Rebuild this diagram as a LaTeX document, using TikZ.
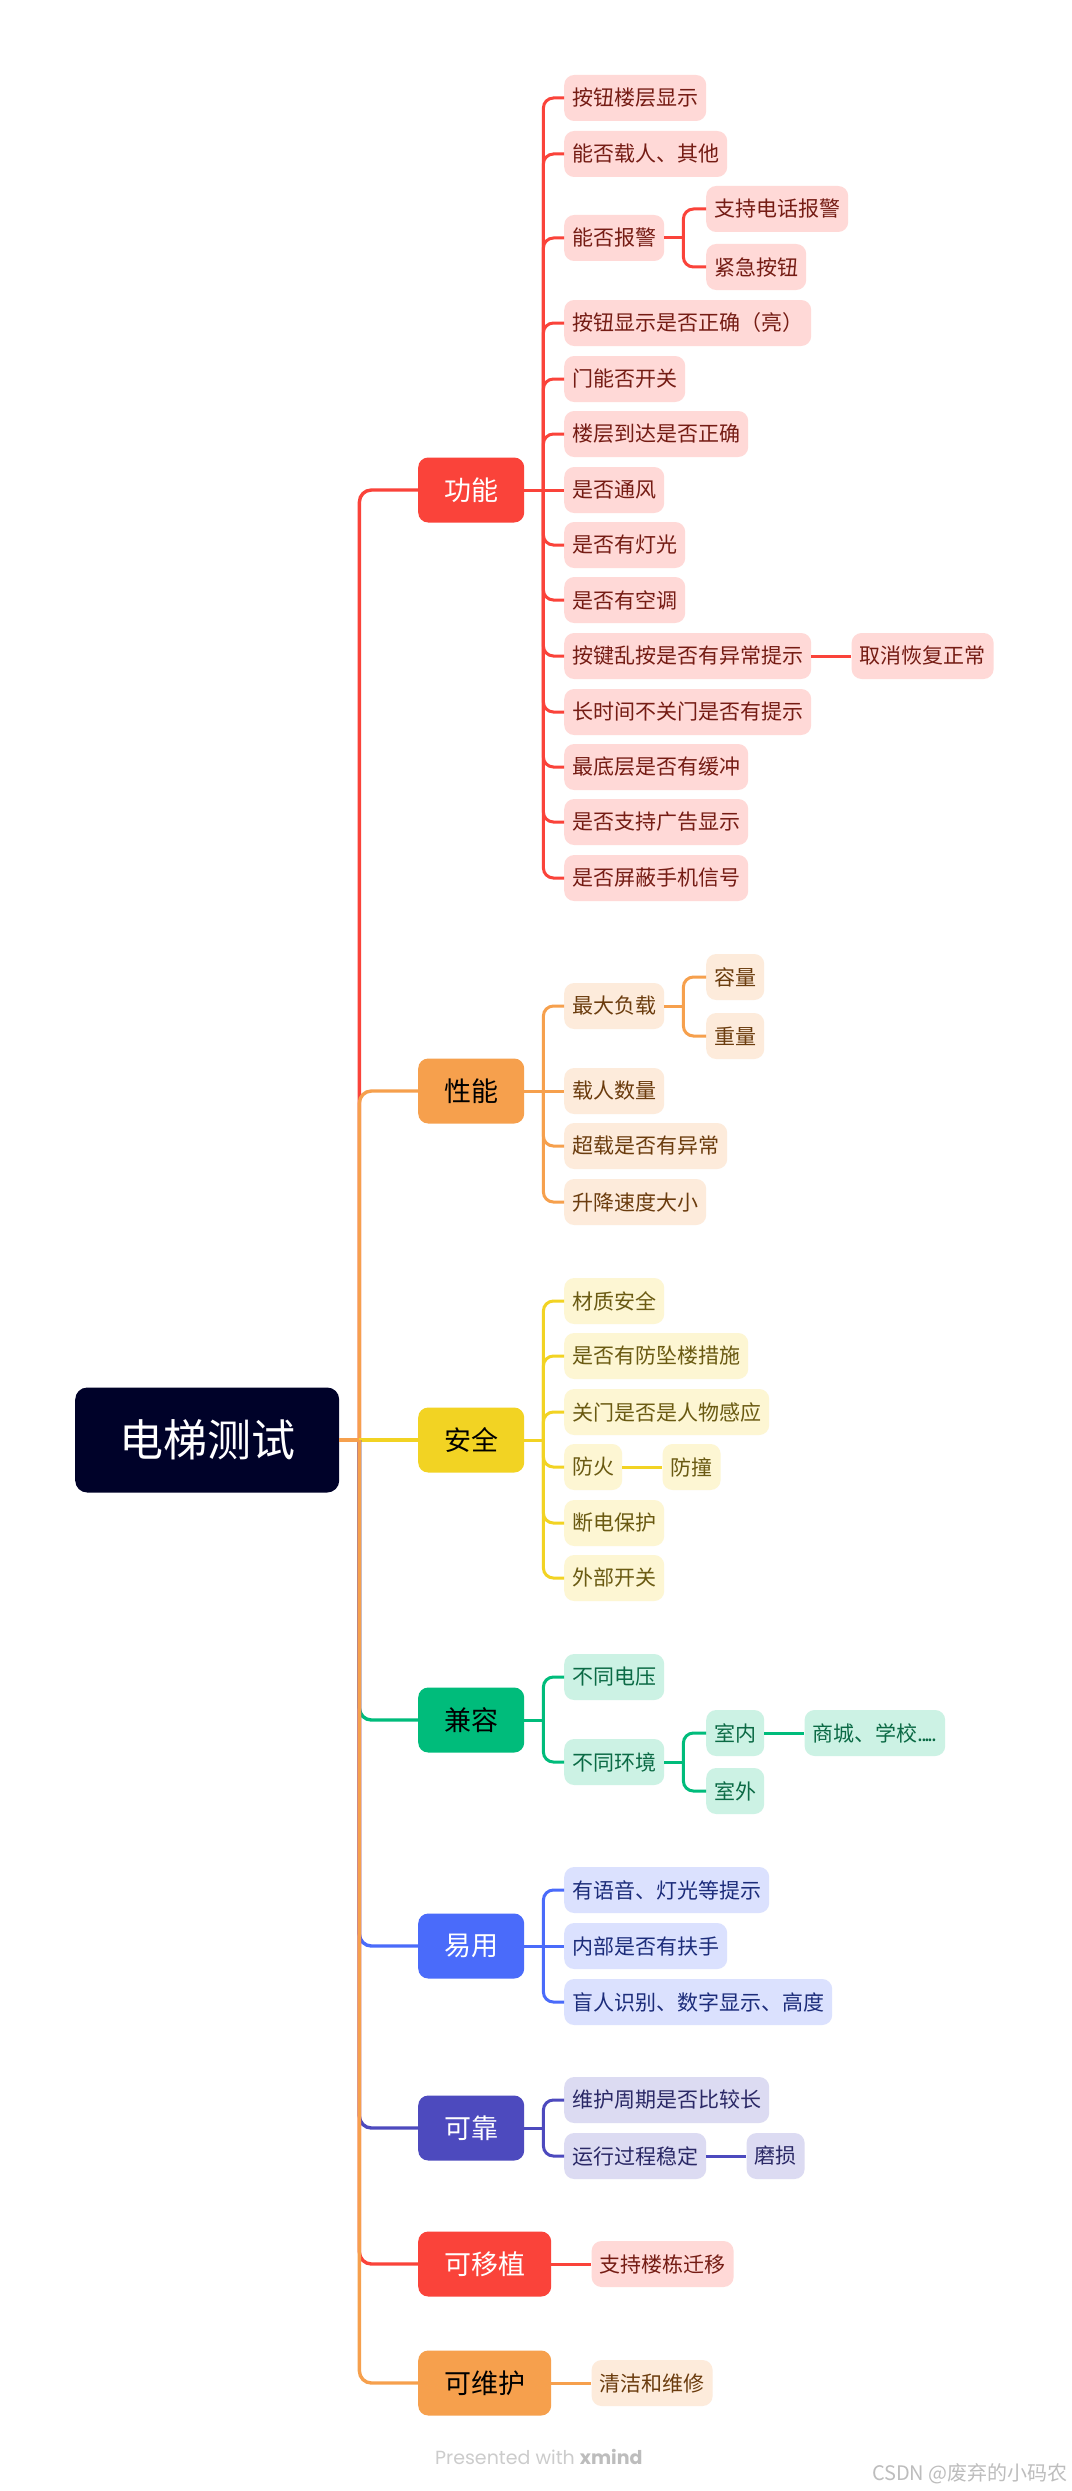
\documentclass[tikz,border=0pt]{standalone}
\usepackage{fontspec}
\setmainfont{Noto Sans CJK SC}
\newfontfamily\xmfont{Poppins}
\usepackage{tikz}
\usetikzlibrary{positioning,calc}
\definecolor{dtRoot}{HTML}{000229}
\definecolor{dtRed}{HTML}{FA433A}
\definecolor{dtRedLeaf}{HTML}{FFD9D7}
\definecolor{dtRedText}{HTML}{751C14}
\definecolor{dtOrange}{HTML}{F6A04D}
\definecolor{dtOrangeLeaf}{HTML}{FDEBDB}
\definecolor{dtOrangeText}{HTML}{6B3C0E}
\definecolor{dtYellow}{HTML}{F2D323}
\definecolor{dtYellowLeaf}{HTML}{FDF6D3}
\definecolor{dtYellowText}{HTML}{6A5A12}
\definecolor{dtGreen}{HTML}{00BC7B}
\definecolor{dtGreenLeaf}{HTML}{CCF2E4}
\definecolor{dtGreenText}{HTML}{0B6A45}
\definecolor{dtBlue}{HTML}{4A6BFA}
\definecolor{dtBlueLeaf}{HTML}{DBE1FE}
\definecolor{dtBlueText}{HTML}{1C2C7A}
\definecolor{dtIndigo}{HTML}{4D4ABE}
\definecolor{dtIndigoLeaf}{HTML}{DCDBF2}
\definecolor{dtIndigoText}{HTML}{2A2866}
\definecolor{dtMark}{HTML}{CCCCCC}
\definecolor{dtMarkDark}{HTML}{BDBDBD}
\newcommand\dtdots{.\kern-2.4pt.\kern-2.4pt.\kern-2.4pt.\kern-2.4pt.}
\tikzset{
  dtroot/.style={fill=dtRoot,text=white,rounded corners=12pt,inner xsep=44pt,inner ysep=0pt,
                 minimum height=105pt,anchor=west,font=\fontsize{44}{50}\selectfont},
  dttopic/.style 2 args={fill=#1,text=#2,rounded corners=10pt,inner xsep=26pt,inner ysep=0pt,
                 minimum height=65pt,anchor=west,font=\fontsize{27}{32}\selectfont},
  dtleaf/.style 2 args={fill=#1,text=#2,rounded corners=10pt,inner xsep=8pt,inner ysep=0pt,
                 minimum height=46pt,anchor=west,font=\fontsize{21}{25}\selectfont},
  dtred/.style={dtleaf={dtRedLeaf}{dtRedText}},
  dtorange/.style={dtleaf={dtOrangeLeaf}{dtOrangeText}},
  dtyellow/.style={dtleaf={dtYellowLeaf}{dtYellowText}},
  dtgreen/.style={dtleaf={dtGreenLeaf}{dtGreenText}},
  dtblue/.style={dtleaf={dtBlueLeaf}{dtBlueText}},
  dtindigo/.style={dtleaf={dtIndigoLeaf}{dtIndigoText}},
  dttrunk/.style={draw=#1,line width=3.4pt,rounded corners=12pt},
  dtlink/.style={draw=#1,line width=3pt,rounded corners=10pt},
}
\begin{document}
\begin{tikzpicture}[x=1pt,y=-1pt]
  \fill[white] (0,0) rectangle (1071,2491);

  \node[dtroot] (root) at (75,1440) {电梯测试};
  \node[dttopic={dtRed}{white}] (gn) at (418,490) {功能};
  \node[dttopic={dtOrange}{black}] (xn) at (418,1091) {性能};
  \node[dttopic={dtYellow}{black}] (aq) at (418,1440) {安全};
  \node[dttopic={dtGreen}{black}] (jr) at (418,1720) {兼容};
  \node[dttopic={dtBlue}{white}] (yy) at (418,1946) {易用};
  \node[dttopic={dtIndigo}{white}] (kk) at (418,2128) {可靠};
  \node[dttopic={dtRed}{white}] (ky) at (418,2264) {可移植};
  \node[dttopic={dtOrange}{black}] (kw) at (418,2383) {可维护};

  % 功能
  \node[dtred] (gn1) at (564,98) {按钮楼层显示};
  \node[dtred] (gn2) at (564,154) {能否载人、其他};
  \node[dtred] (gn3) at (564,238) {能否报警};
  \node[dtred] (gn3a) at (706,209) {支持电话报警};
  \node[dtred] (gn3b) at (706,267) {紧急按钮};
  \node[dtred] (gn4) at (564,323) {按钮显示是否正确（亮）};
  \node[dtred] (gn5) at (564,379) {门能否开关};
  \node[dtred] (gn6) at (564,434) {楼层到达是否正确};
  \node[dtred] (gn7) at (564,490) {是否通风};
  \node[dtred] (gn8) at (564,545) {是否有灯光};
  \node[dtred] (gn9) at (564,600) {是否有空调};
  \node[dtred] (gn10) at (564,656) {按键乱按是否有异常提示};
  \node[dtred,right=40pt of gn10] (gn10a) {取消恢复正常};
  \node[dtred] (gn11) at (564,712) {长时间不关门是否有提示};
  \node[dtred] (gn12) at (564,767) {最底层是否有缓冲};
  \node[dtred] (gn13) at (564,822) {是否支持广告显示};
  \node[dtred] (gn14) at (564,878) {是否屏蔽手机信号};

  % 性能
  \node[dtorange] (xn1) at (564,1006) {最大负载};
  \node[dtorange] (xn1a) at (706,977) {容量};
  \node[dtorange] (xn1b) at (706,1036) {重量};
  \node[dtorange] (xn2) at (564,1091) {载人数量};
  \node[dtorange] (xn3) at (564,1146) {超载是否有异常};
  \node[dtorange] (xn4) at (564,1202) {升降速度大小};

  % 安全
  \node[dtyellow] (aq1) at (564,1301) {材质安全};
  \node[dtyellow] (aq2) at (564,1356) {是否有防坠楼措施};
  \node[dtyellow] (aq3) at (564,1412) {关门是否是人物感应};
  \node[dtyellow] (aq4) at (564,1467) {防火};
  \node[dtyellow,right=40pt of aq4] (aq4a) {防撞};
  \node[dtyellow] (aq5) at (564,1523) {断电保护};
  \node[dtyellow] (aq6) at (564,1578) {外部开关};

  % 兼容
  \node[dtgreen] (jr1) at (564,1677) {不同电压};
  \node[dtgreen] (jr2) at (564,1762) {不同环境};
  \node[dtgreen] (jr2a) at (706,1733) {室内};
  \node[dtgreen,right=40pt of jr2a] (jr2a1) {商城、学校\dtdots};
  \node[dtgreen] (jr2b) at (706,1791) {室外};

  % 易用
  \node[dtblue] (yy1) at (564,1890) {有语音、灯光等提示};
  \node[dtblue] (yy2) at (564,1946) {内部是否有扶手};
  \node[dtblue] (yy3) at (564,2002) {盲人识别、数字显示、高度};

  % 可靠, 可移植, 可维护
  \node[dtindigo] (kk1) at (564,2100) {维护周期是否比较长};
  \node[dtindigo] (kk2) at (564,2156) {运行过程稳定};
  \node[dtindigo,right=40pt of kk2] (kk2a) {磨损};
  \node[dtred,right=40pt of ky] (ky1) {支持楼栋迁移};
  \node[dtorange,right=40pt of kw] (kw1) {清洁和维修};

  \node[anchor=west,inner sep=0pt,text=dtMark,font=\xmfont\fontsize{19}{22}\selectfont] (credit) at (435,2457)
    {Presented with \textcolor{dtMarkDark}{\bfseries xmind}};
  \node[anchor=east,inner sep=0pt,text=dtMarkDark,font=\fontsize{20}{24}\selectfont] (mark) at (1068,2474)
    {CSDN @废弃的小码农};

  % root branches
  \coordinate (rootJ) at ($(root.east)+(20,0)$);
  \foreach \t/\c in {gn/dtRed,xn/dtOrange}{\draw[dttrunk=\c] (rootJ) |- (\t.west);}
  \draw[dttrunk=dtYellow] (rootJ) -- (aq.west);
  \foreach \t/\c in {jr/dtGreen,yy/dtBlue,kk/dtIndigo,ky/dtRed,kw/dtOrange}{\draw[dttrunk=\c] (rootJ) |- (\t.west);}
  \draw[dttrunk=dtOrange] (root.east) -- (rootJ);

  % sub branches
  \draw[dtlink=dtRed] (gn.east) -- ++(19,0) coordinate (gnJ);
  \foreach \k in {gn1,gn2,gn3,gn4,gn5,gn6,gn8,gn9,gn10,gn11,gn12,gn13,gn14}{\draw[dtlink=dtRed] (gnJ) |- (\k.west);}
  \draw[dtlink=dtRed] (gnJ) -- (gn7.west);
  \draw[dtlink=dtRed] (gn3.east) -- ++(19,0) coordinate (gn3J);
  \foreach \k in {gn3a,gn3b}{\draw[dtlink=dtRed] (gn3J) |- (\k.west);}
  \draw[dtlink=dtRed] (gn10) -- (gn10a);

  \draw[dtlink=dtOrange] (xn.east) -- ++(19,0) coordinate (xnJ);
  \foreach \k in {xn1,xn3,xn4}{\draw[dtlink=dtOrange] (xnJ) |- (\k.west);}
  \draw[dtlink=dtOrange] (xnJ) -- (xn2.west);
  \draw[dtlink=dtOrange] (xn1.east) -- ++(19,0) coordinate (xn1J);
  \foreach \k in {xn1a,xn1b}{\draw[dtlink=dtOrange] (xn1J) |- (\k.west);}

  \draw[dtlink=dtYellow] (aq.east) -- ++(19,0) coordinate (aqJ);
  \foreach \k in {aq1,aq2,aq3,aq4,aq5,aq6}{\draw[dtlink=dtYellow] (aqJ) |- (\k.west);}
  \draw[dtlink=dtYellow] (aq4) -- (aq4a);

  \draw[dtlink=dtGreen] (jr.east) -- ++(19,0) coordinate (jrJ);
  \foreach \k in {jr1,jr2}{\draw[dtlink=dtGreen] (jrJ) |- (\k.west);}
  \draw[dtlink=dtGreen] (jr2.east) -- ++(19,0) coordinate (jr2J);
  \foreach \k in {jr2a,jr2b}{\draw[dtlink=dtGreen] (jr2J) |- (\k.west);}
  \draw[dtlink=dtGreen] (jr2a) -- (jr2a1);

  \draw[dtlink=dtBlue] (yy.east) -- ++(19,0) coordinate (yyJ);
  \foreach \k in {yy1,yy3}{\draw[dtlink=dtBlue] (yyJ) |- (\k.west);}
  \draw[dtlink=dtBlue] (yyJ) -- (yy2.west);

  \draw[dtlink=dtIndigo] (kk.east) -- ++(19,0) coordinate (kkJ);
  \foreach \k in {kk1,kk2}{\draw[dtlink=dtIndigo] (kkJ) |- (\k.west);}
  \draw[dtlink=dtIndigo] (kk2) -- (kk2a);

  \draw[dtlink=dtRed] (ky) -- (ky1);
  \draw[dtlink=dtOrange] (kw) -- (kw1);
\end{tikzpicture}
\end{document}
